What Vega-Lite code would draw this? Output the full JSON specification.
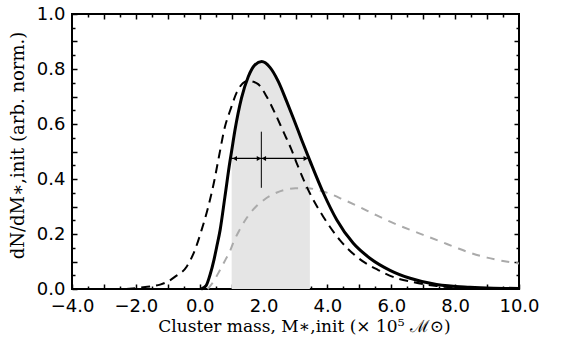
{
  "$schema": "https://vega.github.io/schema/vega-lite/v6.json",
  "width": 447,
  "height": 275,
  "autosize": "none",
  "padding": {"left": 72, "top": 14, "right": 45, "bottom": 58},
  "background": "white",
  "config": {
    "view": {"stroke": "black", "strokeWidth": 2},
    "axis": {"grid": false, "domain": false, "tickColor": "black", "tickWidth": 1.5, "zindex": 1, "labelOverlap": false, "labelFlush": false, "labelBound": false}
  },
  "datasets": {
    "curves": [
      {"x": 0.05, "y": 0.0, "curve": "solid"},
      {"x": 0.2, "y": 0.012, "curve": "solid"},
      {"x": 0.32, "y": 0.05, "curve": "solid"},
      {"x": 0.45, "y": 0.108, "curve": "solid"},
      {"x": 0.53, "y": 0.152, "curve": "solid"},
      {"x": 0.64, "y": 0.215, "curve": "solid"},
      {"x": 0.79, "y": 0.336, "curve": "solid"},
      {"x": 0.95, "y": 0.466, "curve": "solid"},
      {"x": 1.0, "y": 0.502, "curve": "solid"},
      {"x": 1.1, "y": 0.575, "curve": "solid"},
      {"x": 1.31, "y": 0.695, "curve": "solid"},
      {"x": 1.52, "y": 0.772, "curve": "solid"},
      {"x": 1.73, "y": 0.815, "curve": "solid"},
      {"x": 1.94, "y": 0.827, "curve": "solid"},
      {"x": 2.2, "y": 0.806, "curve": "solid"},
      {"x": 2.46, "y": 0.755, "curve": "solid"},
      {"x": 2.72, "y": 0.683, "curve": "solid"},
      {"x": 2.93, "y": 0.622, "curve": "solid"},
      {"x": 3.2, "y": 0.54, "curve": "solid"},
      {"x": 3.45, "y": 0.467, "curve": "solid"},
      {"x": 3.87, "y": 0.35, "curve": "solid"},
      {"x": 4.29, "y": 0.252, "curve": "solid"},
      {"x": 4.81, "y": 0.166, "curve": "solid"},
      {"x": 5.33, "y": 0.112, "curve": "solid"},
      {"x": 5.96, "y": 0.068, "curve": "solid"},
      {"x": 6.59, "y": 0.039, "curve": "solid"},
      {"x": 7.42, "y": 0.016, "curve": "solid"},
      {"x": 8.46, "y": 0.006, "curve": "solid"},
      {"x": 9.2, "y": 0.003, "curve": "solid"},
      {"x": 10.0, "y": 0.002, "curve": "solid"},
      {"x": -2.3, "y": 0.0, "curve": "dashed"},
      {"x": -1.87, "y": 0.005, "curve": "dashed"},
      {"x": -1.5, "y": 0.01, "curve": "dashed"},
      {"x": -1.24, "y": 0.016, "curve": "dashed"},
      {"x": -1.0, "y": 0.027, "curve": "dashed"},
      {"x": -0.77, "y": 0.045, "curve": "dashed"},
      {"x": -0.41, "y": 0.081, "curve": "dashed"},
      {"x": -0.15, "y": 0.142, "curve": "dashed"},
      {"x": 0.06, "y": 0.215, "curve": "dashed"},
      {"x": 0.27, "y": 0.3, "curve": "dashed"},
      {"x": 0.45, "y": 0.39, "curve": "dashed"},
      {"x": 0.6, "y": 0.48, "curve": "dashed"},
      {"x": 0.79, "y": 0.59, "curve": "dashed"},
      {"x": 0.95, "y": 0.648, "curve": "dashed"},
      {"x": 1.16, "y": 0.715, "curve": "dashed"},
      {"x": 1.35, "y": 0.748, "curve": "dashed"},
      {"x": 1.52, "y": 0.757, "curve": "dashed"},
      {"x": 1.7, "y": 0.753, "curve": "dashed"},
      {"x": 1.83, "y": 0.745, "curve": "dashed"},
      {"x": 2.1, "y": 0.699, "curve": "dashed"},
      {"x": 2.36, "y": 0.639, "curve": "dashed"},
      {"x": 2.62, "y": 0.572, "curve": "dashed"},
      {"x": 2.88, "y": 0.505, "curve": "dashed"},
      {"x": 3.04, "y": 0.457, "curve": "dashed"},
      {"x": 3.45, "y": 0.348, "curve": "dashed"},
      {"x": 3.87, "y": 0.263, "curve": "dashed"},
      {"x": 4.39, "y": 0.178, "curve": "dashed"},
      {"x": 4.92, "y": 0.117, "curve": "dashed"},
      {"x": 5.59, "y": 0.069, "curve": "dashed"},
      {"x": 6.17, "y": 0.039, "curve": "dashed"},
      {"x": 6.69, "y": 0.025, "curve": "dashed"},
      {"x": 7.42, "y": 0.011, "curve": "dashed"},
      {"x": 8.0, "y": 0.005, "curve": "dashed"},
      {"x": 0.25, "y": 0.0, "curve": "gray"},
      {"x": 0.4, "y": 0.022, "curve": "gray"},
      {"x": 0.635, "y": 0.069, "curve": "gray"},
      {"x": 0.8, "y": 0.105, "curve": "gray"},
      {"x": 0.95, "y": 0.138, "curve": "gray"},
      {"x": 1.05, "y": 0.168, "curve": "gray"},
      {"x": 1.25, "y": 0.215, "curve": "gray"},
      {"x": 1.47, "y": 0.258, "curve": "gray"},
      {"x": 1.75, "y": 0.298, "curve": "gray"},
      {"x": 2.0, "y": 0.323, "curve": "gray"},
      {"x": 2.4, "y": 0.35, "curve": "gray"},
      {"x": 2.72, "y": 0.362, "curve": "gray"},
      {"x": 3.0, "y": 0.366, "curve": "gray"},
      {"x": 3.4, "y": 0.366, "curve": "gray"},
      {"x": 3.7, "y": 0.36, "curve": "gray"},
      {"x": 4.08, "y": 0.346, "curve": "gray"},
      {"x": 4.5, "y": 0.325, "curve": "gray"},
      {"x": 4.92, "y": 0.303, "curve": "gray"},
      {"x": 5.5, "y": 0.27, "curve": "gray"},
      {"x": 6.0, "y": 0.243, "curve": "gray"},
      {"x": 6.59, "y": 0.215, "curve": "gray"},
      {"x": 7.0, "y": 0.197, "curve": "gray"},
      {"x": 7.52, "y": 0.174, "curve": "gray"},
      {"x": 8.0, "y": 0.152, "curve": "gray"},
      {"x": 8.46, "y": 0.132, "curve": "gray"},
      {"x": 9.0, "y": 0.114, "curve": "gray"},
      {"x": 9.5, "y": 0.102, "curve": "gray"},
      {"x": 10.0, "y": 0.093, "curve": "gray"}
    ],
    "hbar": [
      {"x": 1.0, "x2": 3.4, "y": 0.475}
    ],
    "vbar": [
      {"x": 1.93, "y": 0.368, "y2": 0.572}
    ],
    "arrows": [
      {"x": 1.1, "y": 0.475, "dir": "left"},
      {"x": 1.855, "y": 0.475, "dir": "right"},
      {"x": 2.01, "y": 0.475, "dir": "left"},
      {"x": 3.32, "y": 0.475, "dir": "right"}
    ]
  },
  "resolve": {"axis": {"x": "independent", "y": "independent"}},
  "layer": [
    {
      "data": {"name": "curves"},
      "transform": [{"filter": "datum.curve === 'solid' && datum.x >= 1.0 && datum.x <= 3.45"}],
      "mark": {"type": "area", "color": "#e5e5e5", "interpolate": "monotone"},
      "encoding": {
        "x": {
          "field": "x", "type": "quantitative",
          "scale": {"domain": [-4, 10], "nice": false, "zero": false},
          "axis": {
            "orient": "bottom",
            "values": [-4, -3, -2, -1, 0, 1, 2, 3, 4, 5, 6, 7, 8, 9, 10],
            "labelExpr": "round(datum.value) % 2 === 0 ? format(datum.value, '.1f') : ''",
            "tickSize": -5,
            "labelPadding": 13,
            "labelFont": "DejaVu Sans",
            "labelFontSize": 18,
            "labelColor": "black",
            "title": "Cluster mass, M∗,init (× 10⁵ ℳ⊙)",
            "titleFont": "DejaVu Serif",
            "titleFontSize": 17,
            "titleFontWeight": "normal",
            "titleColor": "black",
            "titleX": 232,
            "titleY": 42,
            "titleAlign": "center",
            "titleBaseline": "alphabetic"
          }
        },
        "y": {
          "field": "y", "type": "quantitative",
          "scale": {"domain": [0, 1], "nice": false, "zero": true},
          "axis": {
            "orient": "left",
            "values": [0, 0.1, 0.2, 0.3, 0.4, 0.5, 0.6, 0.7, 0.8, 0.9, 1.0],
            "labelExpr": "round(datum.value * 10) % 2 === 0 ? format(datum.value, '.1f') : ''",
            "tickSize": -5,
            "labelPadding": 12,
            "labelFont": "DejaVu Sans",
            "labelFontSize": 18,
            "labelColor": "black",
            "title": "dN/dM∗,init (arb. norm.)",
            "titleFont": "DejaVu Serif",
            "titleFontSize": 18,
            "titleFontWeight": "normal",
            "titleColor": "black",
            "titleAngle": -90,
            "titleX": -54,
            "titleY": 131,
            "titleAlign": "center",
            "titleBaseline": "middle"
          }
        }
      }
    },
    {
      "data": {"name": "curves"},
      "transform": [{"filter": "datum.curve === 'gray'"}],
      "mark": {"type": "line", "color": "#aaaaaa", "strokeWidth": 2, "strokeDash": [8, 7], "interpolate": "monotone"},
      "encoding": {
        "x": {
          "field": "x", "type": "quantitative",
          "scale": {"domain": [-4, 10], "nice": false, "zero": false},
          "axis": {"orient": "top", "values": [-3.5, -2.5, -1.5, -0.5, 0.5, 1.5, 2.5, 3.5, 4.5, 5.5, 6.5, 7.5, 8.5, 9.5], "tickSize": -3, "labels": false, "title": null}
        },
        "y": {
          "field": "y", "type": "quantitative",
          "scale": {"domain": [0, 1], "nice": false},
          "axis": {"orient": "right", "values": [0.05, 0.15, 0.25, 0.35, 0.45, 0.55, 0.65, 0.75, 0.85, 0.95], "tickSize": -3, "labels": false, "title": null}
        }
      }
    },
    {
      "data": {"name": "curves"},
      "transform": [{"filter": "datum.curve === 'dashed'"}],
      "mark": {"type": "line", "color": "black", "strokeWidth": 2, "strokeDash": [9, 6], "interpolate": "monotone"},
      "encoding": {
        "x": {
          "field": "x", "type": "quantitative",
          "scale": {"domain": [-4, 10], "nice": false, "zero": false},
          "axis": {"orient": "top", "values": [-3, -2, -1, 0, 1, 2, 3, 4, 5, 6, 7, 8, 9], "tickSize": -5, "labels": false, "title": null}
        },
        "y": {
          "field": "y", "type": "quantitative",
          "scale": {"domain": [0, 1], "nice": false},
          "axis": {"orient": "right", "values": [0.1, 0.2, 0.3, 0.4, 0.5, 0.6, 0.7, 0.8, 0.9], "tickSize": -5, "labels": false, "title": null}
        }
      }
    },
    {
      "data": {"name": "curves"},
      "transform": [{"filter": "datum.curve === 'solid'"}],
      "mark": {"type": "line", "color": "black", "strokeWidth": 3, "interpolate": "monotone"},
      "encoding": {
        "x": {
          "field": "x", "type": "quantitative",
          "scale": {"domain": [-4, 10], "nice": false, "zero": false},
          "axis": {"orient": "bottom", "values": [-3.5, -2.5, -1.5, -0.5, 0.5, 1.5, 2.5, 3.5, 4.5, 5.5, 6.5, 7.5, 8.5, 9.5], "tickSize": -3, "labels": false, "title": null}
        },
        "y": {
          "field": "y", "type": "quantitative",
          "scale": {"domain": [0, 1], "nice": false},
          "axis": {"orient": "left", "values": [0.05, 0.15, 0.25, 0.35, 0.45, 0.55, 0.65, 0.75, 0.85, 0.95], "tickSize": -3, "labels": false, "title": null}
        }
      }
    },
    {
      "data": {"name": "hbar"},
      "mark": {"type": "rule", "color": "black", "strokeWidth": 1.2},
      "encoding": {
        "x": {"field": "x", "type": "quantitative", "axis": null},
        "x2": {"field": "x2"},
        "y": {"field": "y", "type": "quantitative", "axis": null}
      }
    },
    {
      "data": {"name": "vbar"},
      "mark": {"type": "rule", "color": "black", "strokeWidth": 1},
      "encoding": {
        "x": {"field": "x", "type": "quantitative", "axis": null},
        "y": {"field": "y", "type": "quantitative", "axis": null},
        "y2": {"field": "y2"}
      }
    },
    {
      "data": {"name": "arrows"},
      "mark": {"type": "point", "filled": true, "color": "black", "size": 25, "opacity": 1},
      "encoding": {
        "x": {"field": "x", "type": "quantitative", "axis": null},
        "y": {"field": "y", "type": "quantitative", "axis": null},
        "shape": {"field": "dir", "type": "nominal", "scale": {"domain": ["left", "right"], "range": ["triangle-left", "triangle-right"]}, "legend": null}
      }
    }
  ]
}
